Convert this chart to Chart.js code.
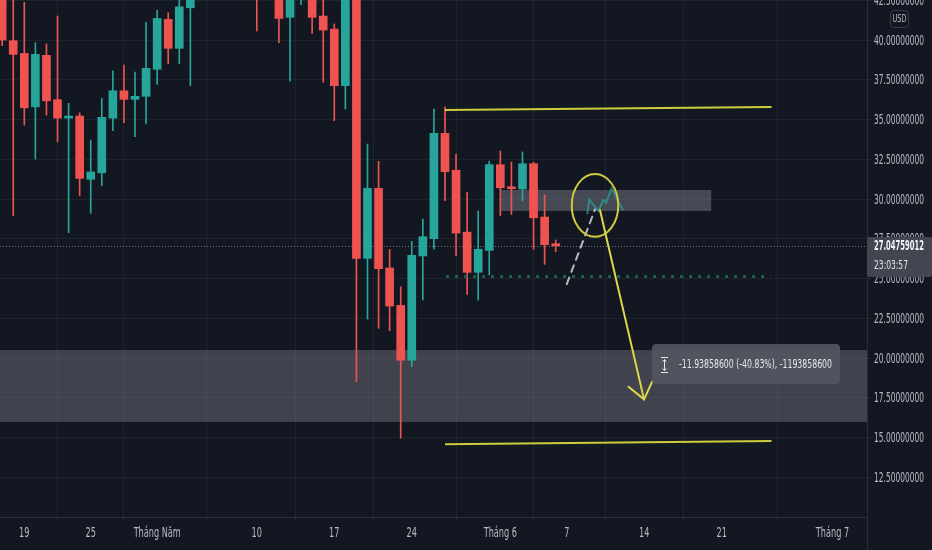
<!DOCTYPE html>
<html>
<head>
<meta charset="utf-8">
<script src="https://cdn.jsdelivr.net/npm/chart.js@4.4.1/dist/chart.umd.min.js"></script>
<style>
  html, body { margin: 0; padding: 0; background: #131722; }
  #wrap { width: 932px; height: 550px; }
</style>
</head>
<body>
<div id="wrap"><canvas id="chart" width="932" height="550"></canvas></div>
<script>
// Data Store
const dates = [
  '2022-04-17','2022-04-18','2022-04-19','2022-04-20','2022-04-21','2022-04-22','2022-04-23',
  '2022-04-24','2022-04-25','2022-04-26','2022-04-27','2022-04-28','2022-04-29','2022-04-30',
  '2022-05-01','2022-05-02','2022-05-03','2022-05-04','2022-05-05','2022-05-06','2022-05-07',
  '2022-05-08','2022-05-09','2022-05-10','2022-05-11','2022-05-12','2022-05-13','2022-05-14',
  '2022-05-15','2022-05-16','2022-05-17','2022-05-18','2022-05-19','2022-05-20','2022-05-21',
  '2022-05-22','2022-05-23','2022-05-24','2022-05-25','2022-05-26','2022-05-27','2022-05-28',
  '2022-05-29','2022-05-30','2022-05-31','2022-06-01','2022-06-02','2022-06-03','2022-06-04',
  '2022-06-05','2022-06-06'
];
const opens = [
  43.0, 39.96, 39.16, 35.80, 39.04, 36.25, 35.09,
  35.22, 31.24, 31.65, 35.09, 36.81, 36.27, 36.46,
  38.16, 41.30, 39.48, 42.03, 43.2, 44.6, 45.4,
  44.3, 43.6, 44.8, 43.3, 44.1, 41.43, 43.5,
  44.0, 41.51, 40.69, 37.13, 44.5, 26.27, 30.67,
  25.66, 23.31, 19.86, 26.42, 27.50, 34.13, 31.81,
  27.92, 25.39, 26.77, 32.16, 30.77, 30.63, 32.22,
  28.87, 27.19
];
const highs = [
  43.5, 42.8, 42.37, 39.83, 39.75, 41.51, 36.02,
  35.43, 33.71, 36.33, 38.07, 38.43, 37.99, 41.11,
  41.89, 41.72, 42.9, 43.6, 45.0, 46.2, 46.0,
  45.3, 45.1, 46.5, 44.9, 44.6, 44.2, 45.2,
  44.5, 43.0, 41.01, 45.2, 45.0, 33.46, 32.37,
  26.83, 24.48, 27.34, 28.74, 35.66, 35.80, 32.83,
  30.42, 29.25, 32.39, 33.02, 32.33, 32.96, 32.31,
  30.25, 27.42
];
const lows = [
  39.64, 28.95, 34.65, 32.52, 35.28, 33.60, 27.88,
  30.21, 29.10, 30.84, 34.30, 34.80, 33.92, 34.72,
  37.21, 38.51, 38.51, 37.13, 42.6, 43.8, 43.9,
  43.0, 42.9, 40.57, 42.7, 39.83, 37.42, 42.22,
  40.42, 37.34, 34.93, 35.66, 18.51, 22.45, 21.87,
  21.72, 14.95, 19.45, 23.65, 26.84, 29.89, 26.42,
  24.00, 23.65, 25.23, 28.95, 29.04, 29.89, 26.84,
  25.89, 26.69
];
const closes = [
  40.00, 39.10, 35.74, 39.10, 36.18, 35.09, 35.22,
  31.30, 31.70, 35.14, 36.81, 36.27, 36.46, 38.22,
  41.36, 39.48, 42.09, 43.2, 44.6, 45.4, 44.3,
  43.6, 44.8, 43.3, 44.1, 41.36, 43.5, 44.0,
  41.43, 40.63, 37.13, 44.5, 26.27, 30.67, 25.62,
  23.27, 19.86, 26.46, 27.63, 34.13, 31.72, 27.86,
  25.39, 26.84, 32.16, 30.71, 30.65, 32.22, 28.82,
  27.13, 27.05
];

const yTicks = [12.5, 15, 17.5, 20, 22.5, 25, 27.5, 30, 32.5, 35, 37.5, 40, 42.5];
const xTickDates = ['2022-04-19','2022-04-25','2022-05-01','2022-05-10','2022-05-17','2022-05-24',
                    '2022-06-01','2022-06-07','2022-06-14','2022-06-21','2022-07-01'];
const xTickLabels = ['19','25','Tháng Năm','10','17','24','Tháng 6','7','14','21','Tháng 7'];

const lastPrice = 27.04759012;
const lastTime = '23:03:57';
const measureText = '-11.93858600 (-40.83%), -1193858600';

// Drawings, in day offsets (from 19 Apr) and prices
const bigZone = { low: 15.98, high: 20.5 };
const smallZone = { from: 43, to: 62.05, low: 29.25, high: 30.57 };
const topLine = [[38.0, 35.60], [67.5, 35.79]];
const bottomLine = [[38.0, 14.58], [67.5, 14.78]];
const greenDots = [[38.1, 25.12], [67.4, 25.12]];
const dashedPath = [[49.0, 24.65], [51.55, 29.35]];
const ghostPath = [[50.86, 29.10], [51.04, 29.98], [51.85, 29.26], [52.30, 29.94], [52.55, 29.77],
                   [53.06, 30.67], [53.51, 30.04], [54.06, 29.35]];
const circle = { day: 51.55, price: 29.60, rDays: 2.1, rPrice: 1.97 };
const arrow = [[52.0, 29.31], [55.98, 17.40]];
const measureAt = [56.7, 20.88];

// Colours
const BG = '#131722';
const UP = '#26a69a';
const DOWN = '#ef5350';
const GRID = 'rgba(42,46,57,0.55)';
const TEXT = '#b8bbc4';
const YELLOW = '#cfcb3e';
const FONT = "'Liberation Sans Narrow', 'DejaVu Sans Condensed', sans-serif";

const BASE = Date.UTC(2022, 3, 19);
function dayOf(s) {
  const [y, m, d] = s.split('-').map(Number);
  return (Date.UTC(y, m - 1, d) - BASE) / 864e5;
}

const xs = dates.map(dayOf);
const colors = closes.map((c, i) => c >= opens[i] ? UP : DOWN);

// narrow text: squeezed horizontally to a width (maxW) or by a factor (k)
function squeezed(ctx, text, x, y, size, color, opts) {
  const o = opts || {};
  ctx.save();
  ctx.font = (o.weight || 'normal') + ' ' + size + 'px ' + FONT;
  ctx.fillStyle = color;
  ctx.textBaseline = 'middle';
  ctx.textAlign = o.align || 'left';
  const w = ctx.measureText(text).width;
  const s = o.maxW ? Math.min(1, o.maxW / w) : (o.k || 1);
  ctx.translate(x, y);
  ctx.scale(s, 1);
  ctx.fillText(text, 0, 0);
  ctx.restore();
}

const tvDrawings = {
  id: 'tvDrawings',
  beforeDraw(chart) {
    const { ctx, width, height } = chart;
    ctx.save();
    ctx.fillStyle = BG;
    ctx.fillRect(0, 0, width, height);
    ctx.restore();
  },
  beforeDatasetsDraw(chart) {
    const { ctx, chartArea: a, scales: { x, y } } = chart;
    ctx.save();
    ctx.beginPath(); ctx.rect(a.left, a.top, a.width, a.height); ctx.clip();
    ctx.fillStyle = 'rgba(120,123,134,0.45)';
    let t = y.getPixelForValue(bigZone.high), b = y.getPixelForValue(bigZone.low);
    ctx.fillRect(a.left, t, a.width, b - t);
    t = y.getPixelForValue(smallZone.high); b = y.getPixelForValue(smallZone.low);
    const l = x.getPixelForValue(smallZone.from), r = x.getPixelForValue(smallZone.to);
    ctx.fillStyle = 'rgba(120,123,134,0.5)';
    ctx.fillRect(l, t, r - l, b - t);
    // last price dotted line
    const py = Math.round(y.getPixelForValue(lastPrice)) + 0.5;
    ctx.strokeStyle = 'rgba(150,154,166,0.7)';
    ctx.lineWidth = 1;
    ctx.setLineDash([1, 2]);
    ctx.beginPath(); ctx.moveTo(a.left, py); ctx.lineTo(a.right, py); ctx.stroke();
    ctx.restore();
  },
  afterDatasetsDraw(chart) {
    const { ctx, chartArea: a, scales: { x, y } } = chart;
    const P = p => [x.getPixelForValue(p[0]), y.getPixelForValue(p[1])];
    const line = (pts, color, w, dash) => {
      ctx.strokeStyle = color; ctx.lineWidth = w; ctx.setLineDash(dash || []);
      ctx.beginPath();
      pts.map(P).forEach((p, i) => i ? ctx.lineTo(p[0], p[1]) : ctx.moveTo(p[0], p[1]));
      ctx.stroke();
    };
    ctx.save();
    ctx.beginPath(); ctx.rect(a.left, a.top, a.width, a.height); ctx.clip();
    ctx.lineCap = 'butt';
    line(topLine, YELLOW, 2);
    line(bottomLine, YELLOW, 2);
    line(greenDots, '#1e5f53', 3, [3, 6]);
    ctx.lineCap = 'round';
    line(dashedPath, 'rgba(210,214,222,0.85)', 2, [7, 6]);
    line(ghostPath, 'rgba(38,166,154,0.7)', 2);

    // circle
    const c = P([circle.day, circle.price]);
    const rx = Math.abs(x.getPixelForValue(circle.day + circle.rDays) - c[0]);
    const ry = Math.abs(y.getPixelForValue(circle.price + circle.rPrice) - c[1]);
    ctx.setLineDash([]);
    ctx.strokeStyle = YELLOW; ctx.lineWidth = 2;
    ctx.beginPath(); ctx.ellipse(c[0], c[1], rx, ry, 0, 0, Math.PI * 2); ctx.stroke();

    // arrow
    line(arrow, '#dcd84a', 2);
    const s = P(arrow[0]), e = P(arrow[1]);
    const ang = Math.atan2(s[1] - e[1], s[0] - e[0]);
    ctx.beginPath();
    ctx.moveTo(e[0] + 20 * Math.cos(ang - 0.66), e[1] + 20 * Math.sin(ang - 0.66));
    ctx.lineTo(e[0], e[1]);
    ctx.lineTo(e[0] + 20 * Math.cos(ang + 0.66), e[1] + 20 * Math.sin(ang + 0.66));
    ctx.stroke();

    // measure label
    const m = P(measureAt);
    const bx = Math.round(m[0]), by = Math.round(m[1]);
    ctx.fillStyle = 'rgba(82,85,97,0.92)';
    ctx.beginPath(); ctx.roundRect(bx, by, 188, 40, 4); ctx.fill();
    ctx.strokeStyle = '#e6e8ee'; ctx.lineWidth = 1; ctx.lineCap = 'butt';
    const ix = bx + 12.5, iy0 = by + 13.5, iy1 = by + 28.5;
    ctx.beginPath();
    ctx.moveTo(ix - 3.5, iy0); ctx.lineTo(ix + 3.5, iy0);
    ctx.moveTo(ix - 3.5, iy1); ctx.lineTo(ix + 3.5, iy1);
    ctx.moveTo(ix, iy0 + 2); ctx.lineTo(ix, iy1 - 2);
    ctx.moveTo(ix - 2, iy0 + 4); ctx.lineTo(ix, iy0 + 2); ctx.lineTo(ix + 2, iy0 + 4);
    ctx.moveTo(ix - 2, iy1 - 4); ctx.lineTo(ix, iy1 - 2); ctx.lineTo(ix + 2, iy1 - 4);
    ctx.stroke();
    squeezed(ctx, measureText, bx + 27, by + 20.5, 13, '#e6e8ee', { maxW: 153 });
    ctx.restore();
  },
  afterDraw(chart) {
    const { ctx, chartArea: a, scales: { x, y } } = chart;
    ctx.save();
    // separator between price and time axes
    ctx.strokeStyle = '#2a2e39'; ctx.lineWidth = 1;
    ctx.beginPath(); ctx.moveTo(a.right + 0.5, a.bottom); ctx.lineTo(a.right + 0.5, chart.height); ctx.stroke();
    // axis labels, narrow like the reference
    yTicks.forEach(v => {
      squeezed(ctx, v.toFixed(8), a.right + 7, y.getPixelForValue(v) + 1, 13.5, TEXT, { maxW: 50 });
    });
    xTickDates.forEach((d, i) => {
      squeezed(ctx, xTickLabels[i], x.getPixelForValue(dayOf(d)), a.bottom + 16.5, 13.5, TEXT,
               { k: 0.67, align: 'center' });
    });
    // last price badge
    const py = y.getPixelForValue(lastPrice);
    ctx.fillStyle = '#434651';
    ctx.beginPath(); ctx.roundRect(a.right, py - 9, chart.width - a.right, 40, 2); ctx.fill();
    squeezed(ctx, lastPrice.toFixed(8), a.right + 7, py + 1, 13.5, '#f0f3fa', { maxW: 50, weight: 'bold' });
    squeezed(ctx, lastTime, a.right + 7, py + 20, 13, '#e0e3eb', { maxW: 34 });
    // currency badge
    ctx.strokeStyle = '#363a45'; ctx.lineWidth = 1;
    ctx.fillStyle = BG;
    ctx.beginPath(); ctx.roundRect(a.right + 23.5, 10.5, 18, 17, 3); ctx.fill(); ctx.stroke();
    squeezed(ctx, 'USD', a.right + 25.5, 19, 11, TEXT, { maxW: 14 });
    ctx.restore();
  }
};

new Chart(document.getElementById('chart'), {
  type: 'bar',
  data: {
    datasets: [
      {
        label: 'wick',
        data: xs.map((d, i) => ({ x: d, y: [lows[i], highs[i]] })),
        backgroundColor: colors,
        barThickness: 1,
        grouped: false,
        order: 2
      },
      {
        label: 'body',
        data: xs.map((d, i) => ({ x: d, y: [opens[i], closes[i]] })),
        backgroundColor: colors,
        barThickness: 8,
        grouped: false,
        order: 1
      }
    ]
  },
  options: {
    responsive: false,
    animation: false,
    layout: { padding: 0 },
    plugins: { legend: { display: false }, tooltip: { enabled: false } },
    scales: {
      x: {
        type: 'linear',
        min: -2.195,
        max: 76.12,
        offset: false,
        afterBuildTicks: s => { s.ticks = xTickDates.map(d => ({ value: dayOf(d) })); },
        afterFit: s => { s.height = 33; },
        grid: { color: GRID, tickLength: 3, tickColor: '#2a2e39' },
        border: { color: '#2a2e39' },
        ticks: { display: false, autoSkip: false, maxRotation: 0 }
      },
      y: {
        position: 'right',
        min: 10,
        max: 42.52,
        afterBuildTicks: s => { s.ticks = yTicks.map(v => ({ value: v })); },
        afterFit: s => { s.width = 65; },
        grid: { color: GRID, tickLength: 4, tickColor: '#2a2e39' },
        border: { color: '#2a2e39' },
        ticks: { display: false }
      }
    }
  },
  plugins: [tvDrawings]
});
</script>
</body>
</html>
